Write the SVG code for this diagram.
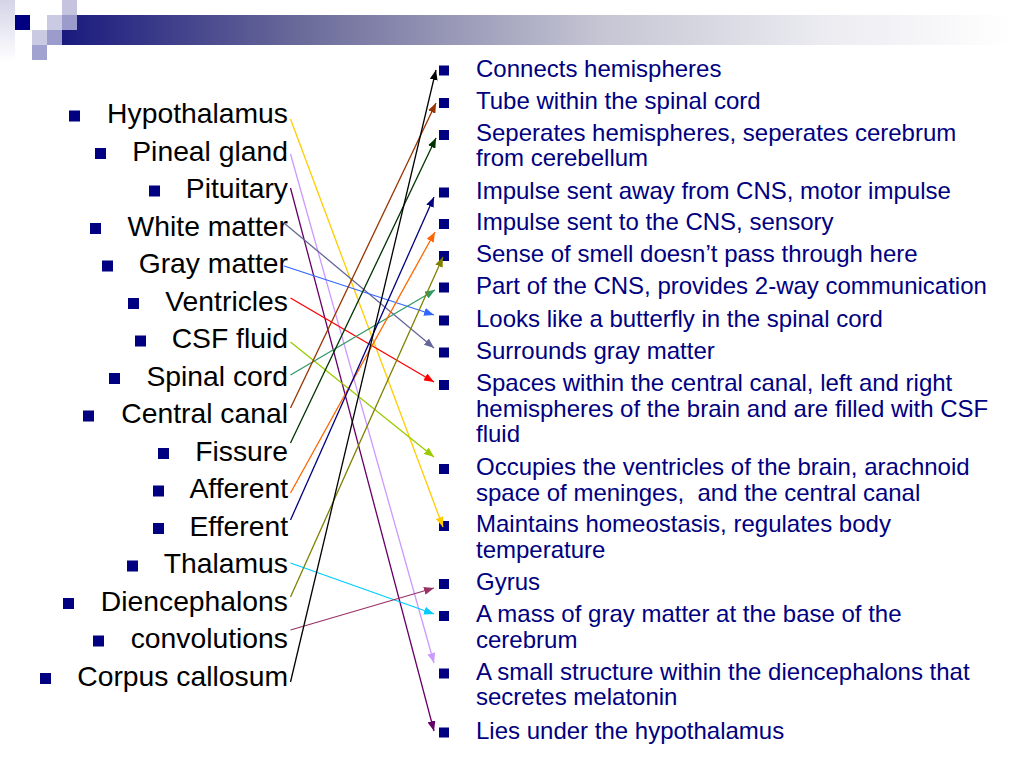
<svg xmlns="http://www.w3.org/2000/svg" width="1024" height="768" viewBox="0 0 1024 768">
<defs>
<linearGradient id="bar" x1="62" y1="0" x2="1012" y2="0" gradientUnits="userSpaceOnUse">
<stop offset="0" stop-color="#1a1a7e"/>
<stop offset="0.25" stop-color="#6a6a9a"/>
<stop offset="0.57" stop-color="#c6c6d4"/>
<stop offset="0.8" stop-color="#ebebf1"/>
<stop offset="1" stop-color="#ffffff"/>
</linearGradient>
<linearGradient id="edge" x1="0" y1="0" x2="0" y2="1">
<stop offset="0" stop-color="#d4d4e8"/>
<stop offset="1" stop-color="#ffffff"/>
</linearGradient>
<marker id="a1" viewBox="0 0 10 8" refX="10" refY="4" markerWidth="10" markerHeight="8" markerUnits="userSpaceOnUse" orient="auto"><path d="M0,0 L10,4 L0,8 z" fill="#ffcc00"/></marker>
<marker id="a2" viewBox="0 0 10 8" refX="10" refY="4" markerWidth="10" markerHeight="8" markerUnits="userSpaceOnUse" orient="auto"><path d="M0,0 L10,4 L0,8 z" fill="#cc99ff"/></marker>
<marker id="a3" viewBox="0 0 10 8" refX="10" refY="4" markerWidth="10" markerHeight="8" markerUnits="userSpaceOnUse" orient="auto"><path d="M0,0 L10,4 L0,8 z" fill="#660066"/></marker>
<marker id="a4" viewBox="0 0 10 8" refX="10" refY="4" markerWidth="10" markerHeight="8" markerUnits="userSpaceOnUse" orient="auto"><path d="M0,0 L10,4 L0,8 z" fill="#666699"/></marker>
<marker id="a5" viewBox="0 0 10 8" refX="10" refY="4" markerWidth="10" markerHeight="8" markerUnits="userSpaceOnUse" orient="auto"><path d="M0,0 L10,4 L0,8 z" fill="#3366ff"/></marker>
<marker id="a6" viewBox="0 0 10 8" refX="10" refY="4" markerWidth="10" markerHeight="8" markerUnits="userSpaceOnUse" orient="auto"><path d="M0,0 L10,4 L0,8 z" fill="#ff0000"/></marker>
<marker id="a7" viewBox="0 0 10 8" refX="10" refY="4" markerWidth="10" markerHeight="8" markerUnits="userSpaceOnUse" orient="auto"><path d="M0,0 L10,4 L0,8 z" fill="#99cc00"/></marker>
<marker id="a8" viewBox="0 0 10 8" refX="10" refY="4" markerWidth="10" markerHeight="8" markerUnits="userSpaceOnUse" orient="auto"><path d="M0,0 L10,4 L0,8 z" fill="#339966"/></marker>
<marker id="a9" viewBox="0 0 10 8" refX="10" refY="4" markerWidth="10" markerHeight="8" markerUnits="userSpaceOnUse" orient="auto"><path d="M0,0 L10,4 L0,8 z" fill="#993300"/></marker>
<marker id="a10" viewBox="0 0 10 8" refX="10" refY="4" markerWidth="10" markerHeight="8" markerUnits="userSpaceOnUse" orient="auto"><path d="M0,0 L10,4 L0,8 z" fill="#003300"/></marker>
<marker id="a11" viewBox="0 0 10 8" refX="10" refY="4" markerWidth="10" markerHeight="8" markerUnits="userSpaceOnUse" orient="auto"><path d="M0,0 L10,4 L0,8 z" fill="#ff6600"/></marker>
<marker id="a12" viewBox="0 0 10 8" refX="10" refY="4" markerWidth="10" markerHeight="8" markerUnits="userSpaceOnUse" orient="auto"><path d="M0,0 L10,4 L0,8 z" fill="#000080"/></marker>
<marker id="a13" viewBox="0 0 10 8" refX="10" refY="4" markerWidth="10" markerHeight="8" markerUnits="userSpaceOnUse" orient="auto"><path d="M0,0 L10,4 L0,8 z" fill="#00ccff"/></marker>
<marker id="a14" viewBox="0 0 10 8" refX="10" refY="4" markerWidth="10" markerHeight="8" markerUnits="userSpaceOnUse" orient="auto"><path d="M0,0 L10,4 L0,8 z" fill="#808000"/></marker>
<marker id="a15" viewBox="0 0 10 8" refX="10" refY="4" markerWidth="10" markerHeight="8" markerUnits="userSpaceOnUse" orient="auto"><path d="M0,0 L10,4 L0,8 z" fill="#993366"/></marker>
<marker id="a16" viewBox="0 0 10 8" refX="10" refY="4" markerWidth="10" markerHeight="8" markerUnits="userSpaceOnUse" orient="auto"><path d="M0,0 L10,4 L0,8 z" fill="#000000"/></marker>
</defs>
<style>
.lt{font-family:"Liberation Sans",Arial,sans-serif;font-size:28.3px;fill:#000;text-anchor:end}
.rt{font-family:"Liberation Sans",Arial,sans-serif;font-size:24px;fill:#000080}
.b{fill:#000080}
.c{fill:none;stroke-width:1.3}
</style>
<rect width="1024" height="768" fill="#ffffff"/>
<g id="header">
<rect x="0" y="0" width="15" height="62" fill="url(#edge)"/>
<rect x="62" y="15" width="950" height="30" fill="url(#bar)"/>
<rect x="15" y="15" width="15" height="15" fill="#000080"/>
<rect x="47" y="15" width="15" height="15" fill="#cacae2"/>
<rect x="62" y="0" width="15" height="15" fill="#c4c4de"/>
<rect x="62" y="15" width="15" height="15" fill="#9c9ccc"/>
<rect x="32" y="30" width="15" height="15" fill="#cacae2"/>
<rect x="47" y="30" width="15" height="15" fill="#9c9ccc"/>
<rect x="32" y="45" width="15" height="15" fill="#a2a2d0"/>
</g>
<g id="left-list">
<g id="l1"><rect class="b" x="69" y="110.5" width="11" height="11"/><text class="lt" x="288" y="123">Hypothalamus</text></g>
<g id="l2"><rect class="b" x="95" y="148" width="11" height="11"/><text class="lt" x="288" y="160.5">Pineal gland</text></g>
<g id="l3"><rect class="b" x="149" y="185.5" width="11" height="11"/><text class="lt" x="288" y="198">Pituitary</text></g>
<g id="l4"><rect class="b" x="90" y="223" width="11" height="11"/><text class="lt" x="288" y="235.5">White matter</text></g>
<g id="l5"><rect class="b" x="102" y="260.5" width="11" height="11"/><text class="lt" x="288" y="273">Gray matter</text></g>
<g id="l6"><rect class="b" x="128" y="298" width="11" height="11"/><text class="lt" x="288" y="310.5">Ventricles</text></g>
<g id="l7"><rect class="b" x="135" y="335.5" width="11" height="11"/><text class="lt" x="288" y="348">CSF fluid</text></g>
<g id="l8"><rect class="b" x="109" y="373" width="11" height="11"/><text class="lt" x="288" y="385.5">Spinal cord</text></g>
<g id="l9"><rect class="b" x="83" y="410.5" width="11" height="11"/><text class="lt" x="288" y="423">Central canal</text></g>
<g id="l10"><rect class="b" x="158" y="448" width="11" height="11"/><text class="lt" x="288" y="460.5">Fissure</text></g>
<g id="l11"><rect class="b" x="153" y="485.5" width="11" height="11"/><text class="lt" x="288" y="498">Afferent</text></g>
<g id="l12"><rect class="b" x="153" y="523" width="11" height="11"/><text class="lt" x="288" y="535.5">Efferent</text></g>
<g id="l13"><rect class="b" x="127" y="560.5" width="11" height="11"/><text class="lt" x="288" y="573">Thalamus</text></g>
<g id="l14"><rect class="b" x="63" y="598" width="11" height="11"/><text class="lt" x="288" y="610.5">Diencephalons</text></g>
<g id="l15"><rect class="b" x="93" y="635.5" width="11" height="11"/><text class="lt" x="288" y="648">convolutions</text></g>
<g id="l16"><rect class="b" x="40" y="673" width="11" height="11"/><text class="lt" x="288" y="685.5">Corpus callosum</text></g>
</g>
<g id="right-list">
<g id="r1"><rect class="b" x="439" y="65.5" width="10" height="10"/><text class="rt" x="476" y="76.7">Connects hemispheres</text></g>
<g id="r2"><rect class="b" x="439" y="98" width="10" height="10"/><text class="rt" x="476" y="109">Tube within the spinal cord</text></g>
<g id="r3"><rect class="b" x="439" y="130" width="10" height="10"/><text class="rt" x="476" y="141">Seperates hemispheres, seperates cerebrum</text><text class="rt" x="476" y="166">from cerebellum</text></g>
<g id="r4"><rect class="b" x="439" y="187.5" width="10" height="10"/><text class="rt" x="476" y="198.5">Impulse sent away from CNS, motor impulse</text></g>
<g id="r5"><rect class="b" x="439" y="219" width="10" height="10"/><text class="rt" x="476" y="230">Impulse sent to the CNS, sensory</text></g>
<g id="r6"><rect class="b" x="439" y="251" width="10" height="10"/><text class="rt" x="476" y="262">Sense of smell doesn’t pass through here</text></g>
<g id="r7"><rect class="b" x="439" y="282.5" width="10" height="10"/><text class="rt" x="476" y="293.5">Part of the CNS, provides 2-way communication</text></g>
<g id="r8"><rect class="b" x="439" y="315.5" width="10" height="10"/><text class="rt" x="476" y="326.5">Looks like a butterfly in the spinal cord</text></g>
<g id="r9"><rect class="b" x="439" y="347.5" width="10" height="10"/><text class="rt" x="476" y="358.5">Surrounds gray matter</text></g>
<g id="r10"><rect class="b" x="439" y="380" width="10" height="10"/><text class="rt" x="476" y="391">Spaces within the central canal, left and right</text><text class="rt" x="476" y="416.5">hemispheres of the brain and are filled with CSF</text><text class="rt" x="476" y="442">fluid</text></g>
<g id="r11"><rect class="b" x="439" y="464" width="10" height="10"/><text class="rt" x="476" y="475">Occupies the ventricles of the brain, arachnoid</text><text class="rt" x="476" y="500.5" xml:space="preserve">space of meninges,  and the central canal</text></g>
<g id="r12"><rect class="b" x="439" y="521" width="10" height="10"/><text class="rt" x="476" y="532">Maintains homeostasis, regulates body</text><text class="rt" x="476" y="558">temperature</text></g>
<g id="r13"><rect class="b" x="439" y="579" width="10" height="10"/><text class="rt" x="476" y="590">Gyrus</text></g>
<g id="r14"><rect class="b" x="439" y="611" width="10" height="10"/><text class="rt" x="476" y="622">A mass of gray matter at the base of the</text><text class="rt" x="476" y="647.5">cerebrum</text></g>
<g id="r15"><rect class="b" x="439" y="668.5" width="10" height="10"/><text class="rt" x="476" y="679.5">A small structure within the diencephalons that</text><text class="rt" x="476" y="705">secretes melatonin</text></g>
<g id="r16"><rect class="b" x="439" y="727.5" width="10" height="10"/><text class="rt" x="476" y="738.5">Lies under the hypothalamus</text></g>
</g>
<g id="connectors">
<line class="c" x1="290.5" y1="119" x2="443" y2="527" stroke="#ffcc00" marker-end="url(#a1)"/>
<line class="c" x1="290.5" y1="154" x2="434" y2="663" stroke="#cc99ff" marker-end="url(#a2)"/>
<line class="c" x1="290.5" y1="188" x2="434" y2="731" stroke="#660066" marker-end="url(#a3)"/>
<line class="c" x1="284" y1="223" x2="434" y2="348" stroke="#666699" marker-end="url(#a4)"/>
<line class="c" x1="284" y1="266" x2="434" y2="315" stroke="#3366ff" marker-end="url(#a5)"/>
<line class="c" x1="290.5" y1="298" x2="434" y2="382" stroke="#ff0000" marker-end="url(#a6)"/>
<line class="c" x1="290.5" y1="342" x2="434" y2="457" stroke="#99cc00" marker-end="url(#a7)"/>
<line class="c" x1="290.5" y1="375" x2="435" y2="290" stroke="#339966" marker-end="url(#a8)"/>
<line class="c" x1="290.5" y1="408" x2="436" y2="103" stroke="#993300" marker-end="url(#a9)"/>
<line class="c" x1="290.5" y1="443" x2="436" y2="138" stroke="#003300" marker-end="url(#a10)"/>
<line class="c" x1="290.5" y1="493" x2="435" y2="232" stroke="#ff6600" marker-end="url(#a11)"/>
<line class="c" x1="290.5" y1="520" x2="434" y2="197" stroke="#000080" marker-end="url(#a12)"/>
<line class="c" x1="290.5" y1="563" x2="434" y2="614" stroke="#00ccff" marker-end="url(#a13)"/>
<line class="c" x1="290.5" y1="597" x2="443" y2="257" stroke="#808000" marker-end="url(#a14)"/>
<line class="c" x1="290.5" y1="630" x2="434" y2="588" stroke="#993366" marker-end="url(#a15)"/>
<line class="c" x1="290.5" y1="682" x2="436" y2="70" stroke="#000000" marker-end="url(#a16)"/>
</g>
</svg>
